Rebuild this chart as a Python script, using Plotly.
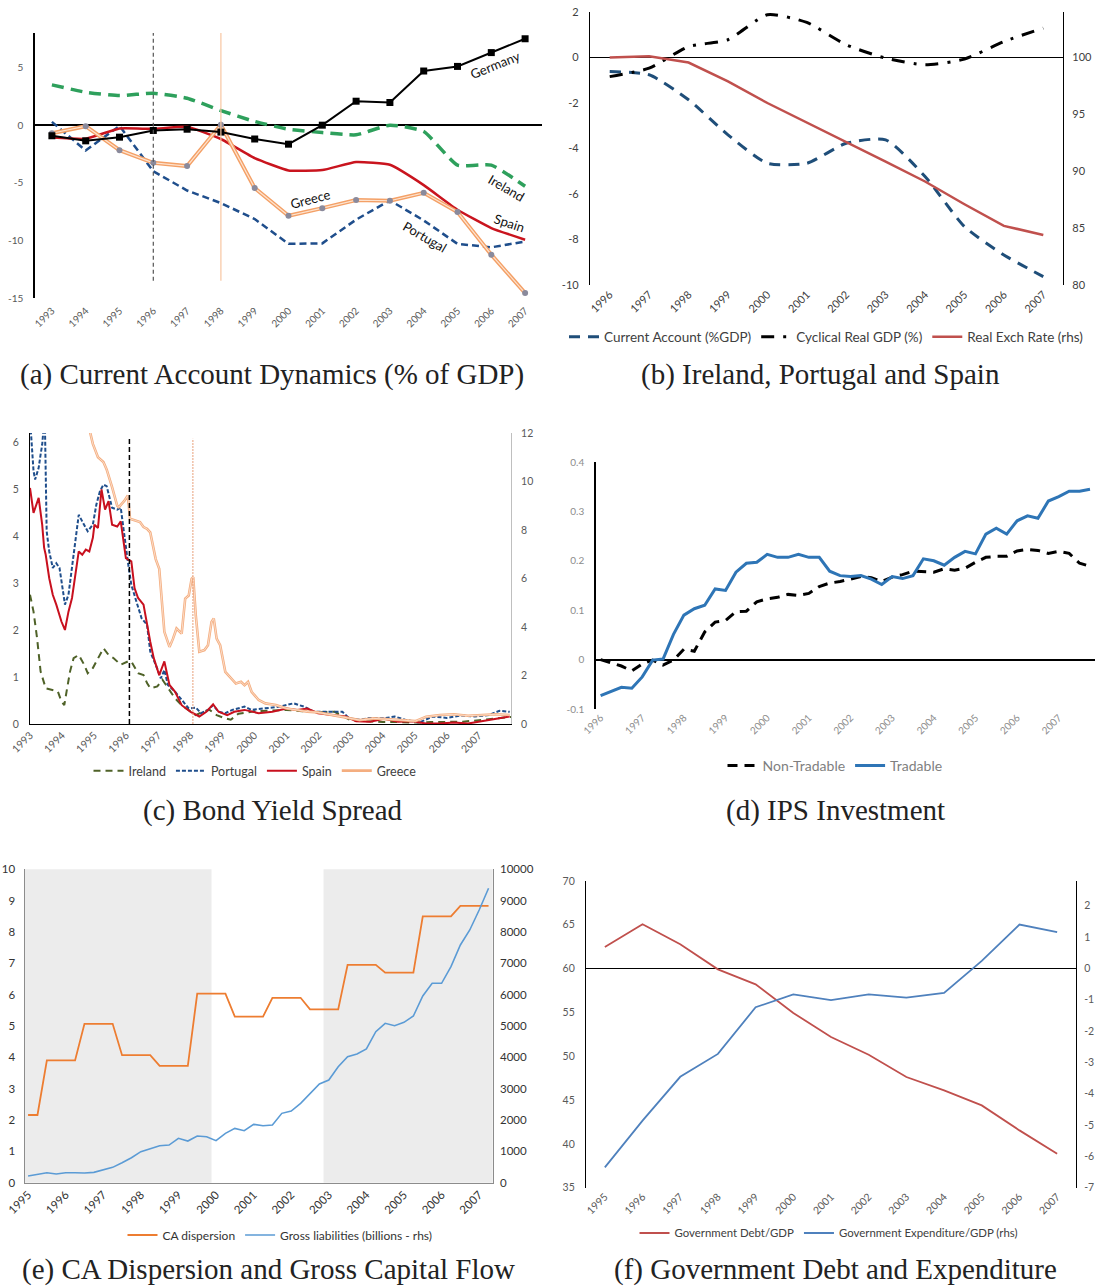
import plotly.graph_objects as go

W, H = 1097, 1287
FONT = "Lato"
SERIF = "Liberation Serif"


def fx(p):
    return p / W


def fy(p):
    return 1 - p / H


def labels(vals):
    return [("%g" % v) for v in vals]


# ---------------- (a) Current Account Dynamics ----------------
YEARS_A = list(range(1993, 2008))
GERMANY_A = [-0.92, -1.36, -1.04, -0.46, -0.35, -0.6, -1.2, -1.65, 0.0, 2.08, 1.97, 4.7, 5.1, 6.3, 7.5]
IRELAND_A = [3.5, 2.86, 2.57, 2.77, 2.34, 1.27, 0.32, -0.35, -0.64, -0.84, 0.0, -0.55, -3.47, -3.47, -5.3]
SPAIN_A = [-1.07, -1.18, -0.29, -0.32, -0.14, -1.2, -2.86, -3.93, -3.9, -3.2, -3.44, -5.2, -7.34, -8.93, -9.94]
PORTUGAL_A = [0.29, -2.2, -0.06, -4.0, -5.67, -6.76, -8.15, -10.3, -10.26, -8.2, -6.53, -8.27, -10.3, -10.6, -10.1]
GREECE_A = [-0.7, -0.09, -2.17, -3.27, -3.55, 0.03, -5.46, -7.86, -7.2, -6.5, -6.56, -5.87, -7.54, -11.24, -14.57]
EVENTS_A = [1996, 1998]
EVENT_LOW_A = -13.5
YTICKS_A = [-15, -10, -5, 0, 5]
LABELS_A = [
    ("Germany", 2006.1, 5.25, -22),
    ("Ireland", 2006.45, -5.45, 30),
    ("Spain", 2006.55, -8.45, 18),
    ("Portugal", 2004.05, -9.7, 30),
    ("Greece", 2000.65, -6.4, -15),
]

# ---------------- (b) Ireland, Portugal and Spain ----------------
YEARS_B = list(range(1996, 2008))
CA_B = [-0.62, -0.76, -1.86, -3.4, -4.65, -4.65, -3.77, -3.62, -5.23, -7.43, -8.68, -9.63]
CYC_B = [-0.84, -0.47, 0.48, 0.78, 1.88, 1.54, 0.56, -0.03, -0.32, -0.07, 0.7, 1.29]
REER_B = [100.0, 100.1, 99.56, 97.9, 96.0, 94.3, 92.6, 90.85, 89.1, 87.1, 85.2, 84.4]
YTICKS_B = [-10, -8, -6, -4, -2, 0, 2]
Y2TICKS_B = [80, 85, 90, 95, 100]

# ---------------- (c) Bond Yield Spread (year, spread) ----------------
IRELAND_C = [(1993.00, 2.75), (1993.11, 2.39), (1993.22, 1.83), (1993.33, 1.12), (1993.49, 0.76),
             (1993.71, 0.72), (1993.87, 0.69), (1993.98, 0.48), (1994.07, 0.40), (1994.14, 0.69),
             (1994.25, 1.12), (1994.36, 1.40), (1994.52, 1.47), (1994.69, 1.26), (1994.80, 1.08),
             (1994.96, 1.19), (1995.18, 1.47), (1995.29, 1.61), (1995.45, 1.47), (1995.61, 1.40),
             (1995.83, 1.26), (1996.05, 1.33), (1996.16, 1.33), (1996.37, 1.08), (1996.54, 1.04),
             (1996.65, 0.87), (1996.75, 0.76), (1996.97, 0.80), (1997.13, 0.94), (1997.30, 0.76),
             (1997.52, 0.55), (1997.73, 0.40), (1997.95, 0.30), (1998.17, 0.19), (1998.39, 0.26),
             (1998.60, 0.30), (1998.82, 0.19), (1999.04, 0.13), (1999.26, 0.09), (1999.50, 0.22),
             (2000.00, 0.27), (2000.50, 0.28), (2001.00, 0.30), (2001.50, 0.27), (2002.00, 0.25),
             (2002.50, 0.26), (2003.00, 0.08), (2003.50, 0.06), (2004.00, 0.04), (2004.50, 0.04),
             (2005.00, 0.03), (2005.50, 0.04), (2006.00, 0.04), (2006.50, 0.05), (2007.00, 0.08),
             (2007.50, 0.12), (2008.00, 0.15)]
PORTUGAL_C = [(1993.00, 6.5), (1993.11, 5.38), (1993.16, 5.2), (1993.27, 5.45), (1993.33, 5.73),
              (1993.38, 5.94), (1993.46, 6.6), (1993.52, 4.1), (1993.60, 3.67), (1993.71, 3.32),
              (1993.82, 3.42), (1993.92, 3.32), (1994.03, 2.82), (1994.09, 2.54), (1994.20, 2.75),
              (1994.31, 3.32), (1994.41, 3.88), (1994.52, 4.45), (1994.63, 4.31), (1994.80, 4.10),
              (1994.96, 4.24), (1995.07, 4.67), (1995.18, 4.95), (1995.29, 5.09), (1995.39, 5.06),
              (1995.56, 4.60), (1995.72, 4.56), (1995.83, 4.60), (1996.05, 3.46), (1996.16, 2.96),
              (1996.32, 2.60), (1996.48, 2.25), (1996.65, 2.11), (1996.75, 1.54), (1996.92, 1.26),
              (1997.08, 0.97), (1997.19, 1.15), (1997.30, 0.83), (1997.52, 0.69), (1997.68, 0.55),
              (1997.95, 0.33), (1998.17, 0.35), (1998.33, 0.23), (1998.55, 0.30), (1998.71, 0.40),
              (1998.88, 0.26), (1999.09, 0.23), (1999.31, 0.30), (1999.69, 0.37), (1999.91, 0.30),
              (2000.34, 0.33), (2000.78, 0.37), (2001.22, 0.44), (2001.54, 0.37), (2001.87, 0.26),
              (2002.30, 0.26), (2002.74, 0.26), (2002.96, 0.12), (2003.28, 0.09), (2003.61, 0.13),
              (2004.04, 0.12), (2004.37, 0.16), (2004.70, 0.09), (2005.13, 0.03), (2005.57, 0.16),
              (2006.00, 0.13), (2006.44, 0.18), (2006.87, 0.16), (2007.31, 0.19), (2007.64, 0.28),
              (2007.96, 0.26)]
SPAIN_C = [(1993.00, 5.02), (1993.11, 4.49), (1993.27, 4.81), (1993.38, 4.24), (1993.44, 3.75),
           (1993.49, 3.60), (1993.60, 3.10), (1993.71, 2.75), (1993.82, 2.54), (1993.98, 2.18),
           (1994.09, 2.00), (1994.20, 2.39), (1994.31, 2.68), (1994.41, 3.17), (1994.52, 3.67),
           (1994.63, 3.60), (1994.74, 3.71), (1994.85, 3.67), (1994.96, 3.96), (1995.01, 4.24),
           (1995.12, 4.17), (1995.23, 4.99), (1995.34, 4.56), (1995.45, 4.74), (1995.56, 4.24),
           (1995.72, 4.20), (1995.83, 4.31), (1995.99, 3.53), (1996.16, 3.46), (1996.26, 2.89),
           (1996.37, 2.68), (1996.54, 2.54), (1996.65, 2.11), (1996.75, 1.75), (1996.86, 1.40),
           (1997.03, 1.04), (1997.19, 1.33), (1997.35, 0.83), (1997.52, 0.69), (1997.73, 0.40),
           (1998.01, 0.26), (1998.28, 0.16), (1998.50, 0.26), (1998.71, 0.42), (1998.88, 0.26),
           (1999.15, 0.19), (1999.37, 0.26), (1999.69, 0.30), (2000.13, 0.23), (2000.56, 0.26),
           (2001.00, 0.33), (2001.33, 0.30), (2001.65, 0.33), (2001.98, 0.23), (2002.41, 0.19),
           (2002.85, 0.16), (2003.17, 0.06), (2003.61, 0.05), (2004.04, 0.11), (2004.48, 0.05),
           (2004.91, 0.06), (2005.35, 0.01), (2005.78, 0.01), (2006.22, 0.03), (2006.66, 0.01),
           (2007.09, 0.06), (2007.52, 0.12), (2007.96, 0.16)]
GREECE_C = [(1994.80, 13.0), (1994.88, 12.0), (1994.96, 11.55), (1995.12, 11.0), (1995.29, 10.8),
            (1995.39, 10.5), (1995.56, 9.77), (1995.72, 9.0), (1995.77, 8.94), (1995.94, 9.2),
            (1996.05, 9.42), (1996.12, 8.46), (1996.26, 8.40), (1996.43, 8.33), (1996.54, 8.12),
            (1996.65, 8.05), (1996.75, 7.90), (1996.92, 6.80), (1997.03, 6.40), (1997.19, 3.80),
            (1997.35, 3.18), (1997.46, 3.52), (1997.57, 3.94), (1997.73, 3.73), (1997.84, 5.17),
            (1997.95, 5.30), (1998.04, 5.99), (1998.09, 6.06), (1998.17, 4.48), (1998.28, 2.98),
            (1998.44, 3.05), (1998.55, 3.25), (1998.66, 4.21), (1998.73, 4.35), (1998.82, 3.52),
            (1998.93, 3.25), (1999.09, 2.15), (1999.26, 1.88), (1999.42, 1.67), (1999.58, 1.74),
            (1999.69, 1.60), (1999.80, 1.74), (1999.91, 1.33), (2000.13, 0.99), (2000.34, 0.85),
            (2000.67, 0.78), (2001.00, 0.64), (2001.32, 0.58), (2001.65, 0.51), (2001.98, 0.48),
            (2002.41, 0.37), (2002.85, 0.26), (2003.28, 0.16), (2003.72, 0.23), (2004.15, 0.21),
            (2004.59, 0.16), (2005.02, 0.12), (2005.35, 0.30), (2005.78, 0.37), (2006.22, 0.40),
            (2006.66, 0.34), (2007.09, 0.37), (2007.52, 0.40), (2007.96, 0.37)]
EVENTS_C = [1996.1, 1998.08]
YEARS_C = list(range(1993, 2008))

# ---------------- (d) IPS Investment (quarterly from 1996Q1) ----------------
QUARTERS_D = [1996 + i / 4 for i in range(48)]
NONTRADABLE_D = [0.0, -0.006, -0.013, -0.023, -0.009, -0.001, -0.011, -0.001, 0.021, 0.017,
                 0.056, 0.076, 0.079, 0.097, 0.098, 0.117, 0.123, 0.126, 0.132, 0.13,
                 0.134, 0.148, 0.155, 0.158, 0.163, 0.168, 0.166, 0.158, 0.167, 0.172,
                 0.179, 0.178, 0.177, 0.184, 0.181, 0.185, 0.197, 0.207, 0.209, 0.209,
                 0.22, 0.223, 0.221, 0.215, 0.219, 0.215, 0.195, 0.189]
TRADABLE_D = [-0.073, -0.065, -0.056, -0.058, -0.035, -0.001, 0.001, 0.051, 0.09, 0.103,
              0.11, 0.143, 0.14, 0.177, 0.195, 0.197, 0.213, 0.207, 0.207, 0.213,
              0.207, 0.207, 0.179, 0.17, 0.168, 0.17, 0.163, 0.152, 0.168, 0.164,
              0.17, 0.204, 0.2, 0.191, 0.207, 0.219, 0.214, 0.254, 0.266, 0.254,
              0.281, 0.291, 0.286, 0.321, 0.33, 0.341, 0.341, 0.345]
YEARS_D = list(range(1996, 2008))
YTICKS_D = [-0.1, 0, 0.1, 0.2, 0.3, 0.4]

# ---------------- (e) CA Dispersion and Gross Capital Flow (quarterly from 1995Q1) ----------------
QUARTERS_E = [1995 + i / 4 for i in range(50)]
CA_DISP_E = [2.16, 2.16, 3.9, 3.9, 3.9, 3.9, 5.07, 5.07, 5.07, 5.07,
             4.07, 4.07, 4.07, 4.07, 3.73, 3.73, 3.73, 3.73, 6.03, 6.03,
             6.03, 6.03, 5.3, 5.3, 5.3, 5.3, 5.9, 5.9, 5.9, 5.9,
             5.53, 5.53, 5.53, 5.53, 6.95, 6.95, 6.95, 6.95, 6.7, 6.7,
             6.7, 6.7, 8.5, 8.5, 8.5, 8.5, 8.83, 8.83, 8.83, 8.83]
GROSS_LIAB_E = [213, 266, 319, 277, 319, 319, 309, 330, 404, 489,
                638, 798, 989, 1085, 1181, 1202, 1415, 1330, 1489, 1468,
                1340, 1574, 1734, 1660, 1862, 1819, 1840, 2213, 2287, 2532,
                2851, 3149, 3277, 3702, 4021, 4106, 4266, 4819, 5085, 5011,
                5117, 5319, 5957, 6362, 6362, 6894, 7585, 8064, 8702, 9394]
SHADE_E = [(1994.9, 1999.88), (2002.86, 2007.4)]
YEARS_E = list(range(1995, 2008))

# ---------------- (f) Government Debt and Expenditure ----------------
YEARS_F = list(range(1995, 2008))
DEBT_F = [62.47, 65.06, 62.78, 59.92, 58.21, 54.94, 52.2, 50.18, 47.63, 46.1, 44.39, 41.54, 38.88]
EXPEND_F = [-6.35, -4.86, -3.46, -2.73, -1.24, -0.83, -1.01, -0.83, -0.93, -0.78, 0.24, 1.4, 1.16]
Y2TICKS_F = [-7, -6, -5, -4, -3, -2, -1, 0, 1, 2]

CAPTIONS = [
    ("(a) Current Account Dynamics (% of GDP)", 272, 374),
    ("(b) Ireland, Portugal and Spain", 820, 374),
    ("(c) Bond Yield Spread", 273, 810),
    ("(d) IPS Investment", 835, 810),
    ("(e) CA Dispersion and Gross Capital Flow", 268, 1269),
    ("(f) Government Debt and Expenditure", 835, 1269),
]

fig = go.Figure()

# ----- (a) traces
fig.add_trace(go.Scatter(x=YEARS_A, y=IRELAND_A, mode="lines", showlegend=False,
                         line=dict(color="#2ea05c", width=3.5, dash="12px,7px", shape="spline", smoothing=0.5)))
fig.add_trace(go.Scatter(x=YEARS_A, y=PORTUGAL_A, mode="lines", showlegend=False,
                         line=dict(color="#1f4e8c", width=2.5, dash="7px,4px")))
fig.add_trace(go.Scatter(x=YEARS_A, y=SPAIN_A, mode="lines", showlegend=False,
                         line=dict(color="#c9141e", width=2.5, shape="spline", smoothing=0.4)))
fig.add_trace(go.Scatter(x=YEARS_A, y=GREECE_A, mode="lines", showlegend=False,
                         line=dict(color="#f4a066", width=4)))
fig.add_trace(go.Scatter(x=YEARS_A, y=GREECE_A, mode="lines+markers", showlegend=False,
                         line=dict(color="#fde3cf", width=1.2),
                         marker=dict(symbol="circle", size=6, color="#8a8a9c")))
fig.add_trace(go.Scatter(x=YEARS_A, y=GERMANY_A, mode="lines+markers", showlegend=False,
                         line=dict(color="#000000", width=2),
                         marker=dict(symbol="square", size=7, color="#000000")))

# ----- (b) traces
fig.add_trace(go.Scatter(x=YEARS_B, y=CA_B, mode="lines", name="Current Account (%GDP)",
                         xaxis="x2", yaxis="y2", legend="legend",
                         line=dict(color="#1f4e79", width=3, dash="11px,8px", shape="spline", smoothing=0.6)))
fig.add_trace(go.Scatter(x=YEARS_B, y=CYC_B, mode="lines", name="Cyclical Real GDP (%)",
                         xaxis="x2", yaxis="y2", legend="legend",
                         line=dict(color="#000000", width=3, dash="13px,9px,3px,9px", shape="spline", smoothing=0.6)))
fig.add_trace(go.Scatter(x=YEARS_B, y=REER_B, mode="lines", name="Real Exch Rate (rhs)",
                         xaxis="x2", yaxis="y3", legend="legend",
                         line=dict(color="#c0504d", width=2.5)))

# ----- (c) traces
fig.add_trace(go.Scatter(x=[p[0] for p in IRELAND_C], y=[p[1] for p in IRELAND_C], mode="lines",
                         name="Ireland", xaxis="x3", yaxis="y4", legend="legend2",
                         line=dict(color="#4f6228", width=2, dash="7px,5px")))
fig.add_trace(go.Scatter(x=[p[0] for p in PORTUGAL_C], y=[p[1] for p in PORTUGAL_C], mode="lines",
                         name="Portugal", xaxis="x3", yaxis="y4", legend="legend2",
                         line=dict(color="#1f4e8c", width=2, dash="4px,2px")))
fig.add_trace(go.Scatter(x=[p[0] for p in SPAIN_C], y=[p[1] for p in SPAIN_C], mode="lines",
                         name="Spain", xaxis="x3", yaxis="y4", legend="legend2",
                         line=dict(color="#c8101e", width=2)))
fig.add_trace(go.Scatter(x=[p[0] for p in GREECE_C], y=[p[1] for p in GREECE_C], mode="lines",
                         name="Greece", xaxis="x3", yaxis="y5", legend="legend2",
                         line=dict(color="#f4ae80", width=2.6)))
fig.add_trace(go.Scatter(x=[p[0] for p in GREECE_C], y=[p[1] for p in GREECE_C], mode="lines",
                         showlegend=False, xaxis="x3", yaxis="y5",
                         line=dict(color="#fce6d8", width=0.8)))

# ----- (d) traces
fig.add_trace(go.Scatter(x=QUARTERS_D, y=NONTRADABLE_D, mode="lines", name="Non-Tradable",
                         xaxis="x4", yaxis="y6", legend="legend3",
                         line=dict(color="#000000", width=3, dash="10px,7px")))
fig.add_trace(go.Scatter(x=QUARTERS_D, y=TRADABLE_D, mode="lines", name="Tradable",
                         xaxis="x4", yaxis="y6", legend="legend3",
                         line=dict(color="#2e75b6", width=3)))

# ----- (e) traces
fig.add_trace(go.Scatter(x=QUARTERS_E, y=CA_DISP_E, mode="lines", name="CA dispersion",
                         xaxis="x5", yaxis="y7", legend="legend4",
                         line=dict(color="#ed7d31", width=1.8)))
fig.add_trace(go.Scatter(x=QUARTERS_E, y=GROSS_LIAB_E, mode="lines", name="Gross liabilities (billions - rhs)",
                         xaxis="x5", yaxis="y8", legend="legend4",
                         line=dict(color="#5b9bd5", width=1.6)))

# ----- (f) traces
fig.add_trace(go.Scatter(x=YEARS_F, y=DEBT_F, mode="lines", name="Government Debt/GDP",
                         xaxis="x6", yaxis="y9", legend="legend5",
                         line=dict(color="#c0504d", width=1.8)))
fig.add_trace(go.Scatter(x=YEARS_F, y=EXPEND_F, mode="lines", name="Government Expenditure/GDP (rhs)",
                         xaxis="x6", yaxis="y10", legend="legend5",
                         line=dict(color="#4f81bd", width=1.8)))

# ----- shapes
shapes = []
for yr, col, dash, wid in zip(EVENTS_A, ["#555555", "#f8c6a2"], ["4px,3px", "solid"], [1.2, 1.2]):
    shapes.append(dict(type="line", xref="x", yref="y", x0=yr, x1=yr, y0=EVENT_LOW_A, y1=8,
                       line=dict(color=col, width=wid, dash=dash)))
for yr, col, dash, wid in zip(EVENTS_C, ["#000000", "#e8a07a"], ["5px,3px", "2px,1px"], [1.5, 1]):
    shapes.append(dict(type="line", xref="x3", yref="y4 domain", x0=yr, x1=yr, y0=0, y1=0.98,
                       line=dict(color=col, width=wid, dash=dash)))
for a, b in SHADE_E:
    shapes.append(dict(type="rect", xref="x5", yref="y7 domain", x0=a, x1=b, y0=0, y1=1,
                       fillcolor="#ececec", line=dict(width=0), layer="below"))

# ----- annotations
annotations = []
for txt, x, y, ang in LABELS_A:
    annotations.append(dict(text=txt, x=x, y=y, xref="x", yref="y", showarrow=False,
                            textangle=ang, font=dict(family=FONT, size=13, color="#111111")))
for txt, cx, cy in CAPTIONS:
    annotations.append(dict(text=txt, x=fx(cx), y=fy(cy), xref="paper", yref="paper",
                            showarrow=False, xanchor="center", yanchor="middle",
                            font=dict(family=SERIF, size=29, color="#222222")))


def base_axis(**kw):
    d = dict(showgrid=False, zeroline=False, ticks="", showline=False, automargin=False,
             tickfont=dict(family=FONT, size=10, color="#595959"))
    d.update(kw)
    return d


def legend_at(cx, cy, size, color):
    return dict(orientation="h", x=fx(cx), y=fy(cy), xanchor="center", yanchor="middle",
                font=dict(family=FONT, size=size, color=color), bgcolor="rgba(0,0,0,0)",
                itemwidth=30, tracegroupgap=0)


layout = dict(
    width=W, height=H, margin=dict(l=0, r=0, t=0, b=0, autoexpand=False), autosize=False,
    paper_bgcolor="white", plot_bgcolor="rgba(0,0,0,0)",
    shapes=shapes, annotations=annotations,
    # (a)
    xaxis=base_axis(domain=[fx(35), fx(542)], anchor="y", range=[1992.5, 2007.5],
                    tickvals=YEARS_A, tickangle=-45, ticklabelstandoff=4),
    yaxis=base_axis(domain=[fy(298), fy(33)], anchor="x", range=[-15, 8],
                    tickvals=YTICKS_A, ticktext=labels(YTICKS_A),
                    showline=True, linecolor="black", linewidth=1.5,
                    zeroline=True, zerolinecolor="black", zerolinewidth=1.5, ticklabelstandoff=8),
    # (b)
    xaxis2=base_axis(domain=[fx(590), fx(1063)], anchor="y2", range=[1995.5, 2007.5],
                     tickvals=YEARS_B, tickangle=-45, tickfont=dict(family=FONT, size=11, color="#404040")),
    yaxis2=base_axis(domain=[fy(285), fy(12)], anchor="x2", range=[-10, 2],
                     tickvals=YTICKS_B, ticktext=labels(YTICKS_B),
                     showline=True, linecolor="black", linewidth=1.2,
                     zeroline=True, zerolinecolor="black", zerolinewidth=1.2, ticklabelstandoff=8,
                     tickfont=dict(family=FONT, size=11, color="#404040")),
    yaxis3=base_axis(domain=[fy(285), fy(12)], anchor="x2", overlaying="y2", side="right",
                     range=[80, 104], tickvals=Y2TICKS_B,
                     showline=True, linecolor="black", linewidth=1.2, ticklabelstandoff=6,
                     tickfont=dict(family=FONT, size=11, color="#404040")),
    # (c)
    xaxis3=base_axis(domain=[fx(30), fx(511)], anchor="y4", range=[1993, 2008],
                     tickvals=YEARS_C, tickangle=-45, showline=True, linecolor="black", linewidth=1.2,
                     tickfont=dict(family=FONT, size=10.5, color="#595959")),
    yaxis4=base_axis(domain=[fy(724), fy(433)], anchor="x3", range=[0, 6.19], dtick=1,
                     showline=True, linecolor="black", linewidth=1.2, ticklabelstandoff=8,
                     tickfont=dict(family=FONT, size=10.5, color="#595959")),
    yaxis5=base_axis(domain=[fy(724), fy(433)], anchor="x3", overlaying="y4", side="right",
                     range=[0, 12], dtick=2, showline=True, linecolor="#bfbfbf", linewidth=1,
                     ticklabelstandoff=7, tickfont=dict(family=FONT, size=10.5, color="#595959")),
    # (d)
    xaxis4=base_axis(domain=[fx(596), fx(1095)], anchor="y6", range=[1995.89, 2007.87],
                     tickvals=YEARS_D, tickangle=-45,
                     tickfont=dict(family=FONT, size=10, color="#8c8c8c")),
    yaxis6=base_axis(domain=[fy(709), fy(462)], anchor="x4", range=[-0.1, 0.4],
                     tickvals=YTICKS_D, ticktext=labels(YTICKS_D),
                     showline=True, linecolor="black", linewidth=1.5,
                     zeroline=True, zerolinecolor="black", zerolinewidth=2, ticklabelstandoff=8,
                     tickfont=dict(family=FONT, size=10, color="#8c8c8c")),
    # (e)
    xaxis5=base_axis(domain=[fx(24.5), fx(492.7)], anchor="y7", range=[1994.905, 2007.36],
                     tickvals=YEARS_E, tickangle=-45, showline=True, linecolor="#8c8c8c", linewidth=1,
                     tickfont=dict(family=FONT, size=11.5, color="#333333")),
    yaxis7=base_axis(domain=[fy(1182.7), fy(869.3)], anchor="x5", range=[0, 10], dtick=1,
                     showline=True, linecolor="#8c8c8c", linewidth=1, ticklabelstandoff=6,
                     tickfont=dict(family=FONT, size=11.5, color="#333333")),
    yaxis8=base_axis(domain=[fy(1182.7), fy(869.3)], anchor="x5", overlaying="y7", side="right",
                     range=[0, 10000], dtick=1000, tickformat="d",
                     showline=True, linecolor="#8c8c8c", linewidth=1,
                     ticklabelstandoff=4, tickfont=dict(family=FONT, size=11.5, color="#333333")),
    # (f)
    xaxis6=base_axis(domain=[fx(586), fx(1076)], anchor="y9", range=[1994.5, 2007.5],
                     tickvals=YEARS_F, tickangle=-45,
                     tickfont=dict(family=FONT, size=10.5, color="#595959")),
    yaxis9=base_axis(domain=[fy(1187.7), fy(881)], anchor="x6", range=[35, 70], dtick=5,
                     showline=True, linecolor="black", linewidth=1.2, ticklabelstandoff=8,
                     tickfont=dict(family=FONT, size=10.5, color="#595959")),
    yaxis10=base_axis(domain=[fy(1187.7), fy(881)], anchor="x6", overlaying="y9", side="right",
                      range=[-7, 2.79], tickvals=Y2TICKS_F, ticktext=labels(Y2TICKS_F),
                      showline=True, linecolor="black", linewidth=1.2,
                      zeroline=True, zerolinecolor="black", zerolinewidth=1.2, ticklabelstandoff=5,
                      tickfont=dict(family=FONT, size=10.5, color="#595959")),
    legend=legend_at(826, 337, 13.5, "#404040"),
    legend2=legend_at(255, 771, 12.5, "#404040"),
    legend3=legend_at(835, 766, 14, "#7f7f7f"),
    legend4=legend_at(280, 1235, 12, "#333333"),
    legend5=legend_at(829, 1233, 11.4, "#404040"),
)

fig.update_layout(**layout)
fig.write_html("out.html")
